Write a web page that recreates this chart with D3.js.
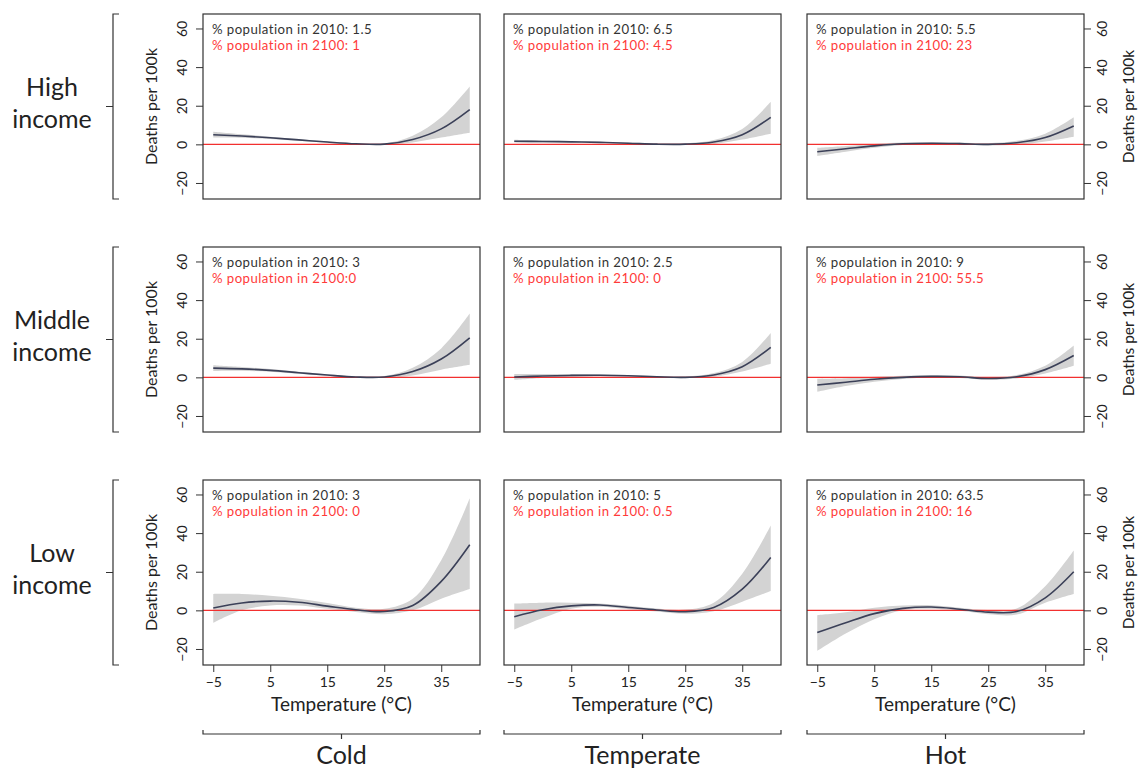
<!DOCTYPE html>
<html>
<head>
<meta charset="utf-8">
<script src="https://cdn.jsdelivr.net/npm/d3@7"></script>
<style>
  body { margin: 0; background: #fff; }
  text { font-family: Lato, "Open Sans", sans-serif; fill: #222; }
</style>
</head>
<body>
<div id="chart"></div>
<script>
// Climate zones (columns) and income groups (rows)
const regions = ["Cold", "Temperate", "Hot"];
const incomes = [["High", "income"], ["Middle", "income"], ["Low", "income"]];

// Temperatures at which the curves are read
const temps = [-5, 0, 5, 10, 15, 20, 25, 30, 35, 40];
const xTicks = [-5, 5, 15, 25, 35];
const yTicks = [-20, 0, 20, 40, 60];

// % population labels per panel [row][col]
const pop2010 = [["1.5", "6.5", "5.5"], ["3", "2.5", "9"], ["3", "5", "63.5"]];
const pop2100 = [["1", "4.5", "23"], ["0", "0", "55.5"], ["0", "0.5", "16"]];
const pop2100Sep = [[" ", " ", " "], ["", " ", " "], [" ", " ", " "]];

// Fitted deaths per 100k, [row][col]
const fit = [
  [[5, 4.3, 3.4, 2.3, 1.2, 0.3, 0.1, 2.5, 8, 18],
   [1.6, 1.5, 1.3, 1.0, 0.6, 0.1, 0.1, 1.2, 5, 14],
   [-3.8, -2.3, -0.8, 0.3, 0.6, 0.4, 0, 0.8, 3.5, 9.5]],
  [[4.8, 4.4, 3.6, 2.4, 1.2, 0.2, 0.2, 3, 9.5, 20.5],
   [0.2, 0.7, 1.0, 1.1, 0.8, 0.3, 0, 1.2, 5.5, 15.5],
   [-4, -2.5, -1, 0, 0.5, 0.3, -0.6, 0.3, 4, 11.3]],
  [[1.2, 3.8, 4.8, 4.2, 2.2, 0.3, -0.6, 2.5, 15, 34],
   [-3.3, 0.3, 2.3, 2.8, 1.5, 0.2, -0.7, 1.5, 11, 27.4],
   [-11.5, -6.4, -1.7, 1, 1.7, 0.6, -0.9, -0.6, 6.5, 20]]
];

// Lower confidence bound
const lower = [
  [[3.5, 3.4, 2.8, 1.8, 0.8, 0, -0.3, 1, 3.5, 6],
   [1.0, 1.0, 0.9, 0.7, 0.3, -0.2, -0.3, 0.2, 2.5, 5.5],
   [-6, -3.8, -1.8, -0.3, 0.1, -0.1, -0.6, -0.2, 1.5, 4]],
  [[3.3, 3.4, 2.9, 1.9, 0.8, -0.1, -0.3, 1, 4, 6.5],
   [-1.3, -0.3, 0.3, 0.6, 0.4, -0.1, -0.4, 0.3, 3, 7],
   [-7.5, -4.5, -2.3, -0.8, -0.1, -0.3, -1.2, -0.6, 2, 6]],
  [[-6.5, 0, 2.5, 2.5, 0.8, -0.8, -2, 0, 6, 11],
   [-10, -4, 0.8, 1.8, 0.6, -0.6, -1.8, -0.5, 4.5, 10],
   [-21, -12, -4.6, 0, 0.8, -0.2, -2.0, -2.2, 4, 8.5]]
];

// Upper confidence bound
const upper = [
  [[6.5, 5.2, 4, 2.8, 1.6, 0.6, 0.5, 4.5, 14, 30],
   [2.4, 2.0, 1.7, 1.3, 0.9, 0.4, 0.5, 2.2, 8, 22],
   [-1.8, -0.8, 0.2, 0.9, 1.1, 0.9, 0.6, 1.8, 5.5, 14]],
  [[6.3, 5.4, 4.3, 2.9, 1.6, 0.5, 0.7, 5, 15, 33],
   [1.7, 1.7, 1.7, 1.6, 1.2, 0.7, 0.4, 2.2, 8, 23],
   [-0.8, -0.5, 0.3, 0.8, 1.1, 0.9, 0, 1.2, 6, 16.5]],
  [[8.5, 8.5, 7.5, 6, 3.8, 1.4, 0.8, 6, 26, 58],
   [3.5, 4, 3.9, 3.5, 2.4, 1, 0.4, 4, 19, 44],
   [-2.5, -1, 1.4, 2.5, 2.7, 1.4, 0.2, 1, 12.5, 31]]
];

const width = 1140, height = 769;
const colX = [203, 504, 807];
const rowY = [14, 247, 480];
const pw = 277, ph = 185;

const svg = d3.select("#chart").append("svg")
    .attr("width", width)
    .attr("height", height);

const x = d3.scaleLinear().domain([-6.8, 41.8]).range([0, pw]);
const y = d3.scaleLinear().domain([-28.3, 67.5]).range([ph, 0]);

const line = d3.line()
    .x(d => x(d.t))
    .y(d => y(d.v))
    .curve(d3.curveCatmullRom.alpha(0.5));

const area = d3.area()
    .x(d => x(d.t))
    .y0(d => y(d.lo))
    .y1(d => y(d.hi))
    .curve(d3.curveCatmullRom.alpha(0.5));

incomes.forEach((inc, r) => {
    regions.forEach((reg, c) => {
        const g = svg.append("g")
            .attr("transform", `translate(${colX[c]},${rowY[r]})`);

        const pts = temps.map((t, i) => ({
            t: t,
            v: fit[r][c][i],
            lo: lower[r][c][i],
            hi: upper[r][c][i]
        }));

        // confidence band
        g.append("path")
            .datum(pts)
            .attr("fill", "#d3d3d3")
            .attr("d", area);

        // zero reference
        g.append("line")
            .attr("x1", 0).attr("x2", pw)
            .attr("y1", y(0)).attr("y2", y(0))
            .attr("stroke", "#f2302f")
            .attr("stroke-width", 1.4);

        // fitted curve
        g.append("path")
            .datum(pts)
            .attr("fill", "none")
            .attr("stroke", "#3b4058")
            .attr("stroke-width", 1.6)
            .attr("d", line);

        // box
        g.append("rect")
            .attr("width", pw).attr("height", ph)
            .attr("fill", "none")
            .attr("stroke", "#333")
            .attr("stroke-width", 1.2);

        // population labels
        g.append("text")
            .attr("x", 9).attr("y", 20)
            .style("font-size", "13.2px")
            .style("letter-spacing", "0.45px")
            .style("fill", "#333")
            .text(`% population in 2010: ${pop2010[r][c]}`);
        g.append("text")
            .attr("x", 9).attr("y", 36)
            .style("font-size", "13.2px")
            .style("letter-spacing", "0.45px")
            .style("fill", "#ff3a3a")
            .text(`% population in 2100:${pop2100Sep[r][c]}${pop2100[r][c]}`);

        // left y axis on the first column
        if (c === 0) {
            const ax = g.append("g")
                .call(d3.axisLeft(y).tickValues(yTicks).tickSize(7).tickFormat(d3.format("d")));
            ax.select(".domain").remove();
            ax.selectAll("line").attr("stroke", "#333");
            ax.selectAll("text")
                .attr("x", 0).attr("y", -16).attr("dy", 0)
                .attr("transform", "rotate(-90)")
                .style("text-anchor", "middle")
                .style("font-size", "14px")
                .style("font-family", "Lato, sans-serif")
                .style("fill", "#222");
            g.append("text")
                .attr("transform", `translate(-46,${ph / 2}) rotate(-90)`)
                .style("text-anchor", "middle")
                .style("font-size", "16px")
                .text("Deaths per 100k");
        }

        // right y axis on the last column
        if (c === 2) {
            const ax = g.append("g")
                .attr("transform", `translate(${pw},0)`)
                .call(d3.axisRight(y).tickValues(yTicks).tickSize(7).tickFormat(d3.format("d")));
            ax.select(".domain").remove();
            ax.selectAll("line").attr("stroke", "#333");
            ax.selectAll("text")
                .attr("x", 0).attr("y", 23).attr("dy", 0)
                .attr("transform", "rotate(-90)")
                .style("text-anchor", "middle")
                .style("font-size", "14px")
                .style("font-family", "Lato, sans-serif")
                .style("fill", "#222");
            g.append("text")
                .attr("transform", `translate(${pw + 50},${ph / 2}) rotate(-90)`)
                .style("text-anchor", "middle")
                .style("font-size", "15.5px")
                .text("Deaths per 100k");
        }

        // x axis on the bottom row
        if (r === 2) {
            const ax = g.append("g")
                .attr("transform", `translate(0,${ph})`)
                .call(d3.axisBottom(x).tickValues(xTicks).tickSize(7).tickPadding(5));
            ax.select(".domain").remove();
            ax.selectAll("line").attr("stroke", "#333");
            ax.selectAll("text")
                .style("font-size", "14px")
                .style("font-family", "Lato, sans-serif")
                .style("fill", "#222");
            g.append("text")
                .attr("x", pw / 2).attr("y", ph + 46)
                .style("text-anchor", "middle")
                .style("font-size", "19px")
                .text("Temperature (\u00B0C)");
        }
    });
});

// row brackets and income labels
incomes.forEach((inc, r) => {
    const top = rowY[r], bot = rowY[r] + ph, mid = rowY[r] + ph / 2;
    svg.append("path")
        .attr("d", `M119,${top}H113V${bot}H119M113,${mid}H106`)
        .attr("fill", "none")
        .attr("stroke", "#333")
        .attr("stroke-width", 1.2);
    svg.append("text")
        .attr("x", 52).attr("y", mid - 11)
        .style("text-anchor", "middle")
        .style("font-size", "25px")
        .text(inc[0]);
    svg.append("text")
        .attr("x", 52).attr("y", mid + 21)
        .style("text-anchor", "middle")
        .style("font-size", "25px")
        .text(inc[1]);
});

// column brackets and climate labels
regions.forEach((reg, c) => {
    const left = colX[c], right = colX[c] + pw, mid = colX[c] + pw / 2, yb = 734;
    svg.append("path")
        .attr("d", `M${left},${yb - 4}V${yb}H${right}V${yb - 4}M${mid},${yb}V${yb + 5}`)
        .attr("fill", "none")
        .attr("stroke", "#333")
        .attr("stroke-width", 1.2);
    svg.append("text")
        .attr("x", mid).attr("y", 764)
        .style("text-anchor", "middle")
        .style("font-size", "25px")
        .text(reg);
});
</script>
</body>
</html>
